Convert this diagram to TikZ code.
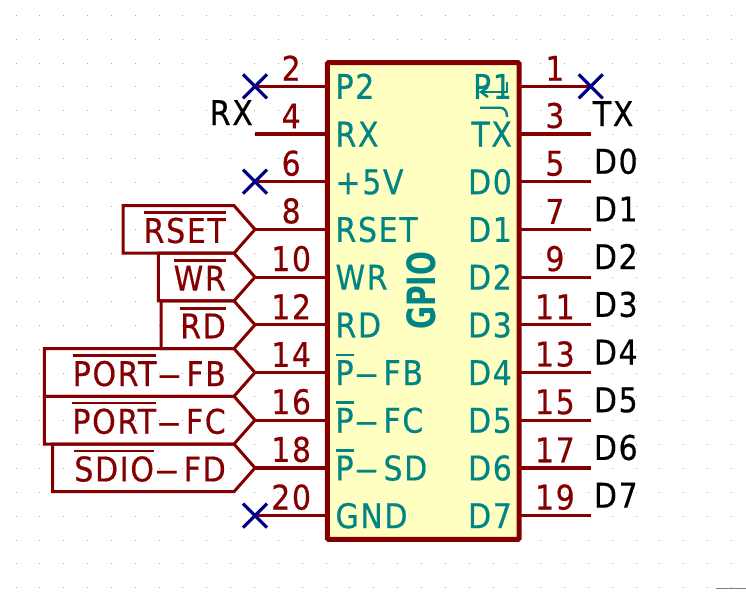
\documentclass[tikz,border=0pt]{standalone}
\usepackage{fontspec}
\setmainfont{DejaVu Sans}[FakeStretch=0.88,LetterSpace=5,FakeBold=0.5]
\newfontfamily\gpiofont[FakeStretch=0.72]{DejaVu Sans Bold}
\usepackage{tikz}
\definecolor{pinRed}{HTML}{840000}
\definecolor{nameTeal}{HTML}{008484}
\definecolor{markBlue}{HTML}{000084}
\definecolor{chipBody}{HTML}{FFFFC2}
\tikzstyle{griddot} = [fill=black!35]
\tikzstyle{chipbox} = [draw=pinRed, fill=chipBody, line width=5pt, rounded corners=1pt, outer sep=0pt]
\tikzstyle{pinwire} = [draw=pinRed, line width=3.2pt]
\tikzstyle{pinnum} = [text=pinRed, above=4pt]
\tikzstyle{leftname} = [text=nameTeal, anchor=base west, xshift=8pt, yshift=-12.5pt]
\tikzstyle{rightname} = [text=nameTeal, anchor=base east, xshift=-7pt, yshift=-12.5pt]
\tikzstyle{netname} = [text=black, anchor=base west, xshift=3pt, yshift=8pt]
\tikzstyle{ncmark} = [draw=markBlue, line width=3.2pt]
\tikzstyle{labelline} = [draw=pinRed, line width=3pt]
\tikzstyle{labeltext} = [text=pinRed, anchor=base east, xshift=-29pt, yshift=-13.5pt]
\newcommand{\nbar}[1]{\vbox{\hrule height 2.6pt \kern 4pt \hbox{#1}}}
\newcommand{\ldash}{\kern1pt\scalebox{1.6}[1]{–}\kern5pt}

\begin{document}
\begin{tikzpicture}[
            x=1pt, y=-1pt,
            every node/.style={inner sep=0pt, font=\fontsize{34pt}{36pt}\selectfont},
            node distance=47.7pt
        ]
            \useasboundingbox (0,0) rectangle (746,600);
            \foreach \i in {0,...,30}
                \foreach \j in {0,...,24}
                    \fill [griddot] (15.5+23.85*\i,14.8+23.85*\j) rectangle ++(1,1);
            \draw [black!50, line width=1pt] (716,588) -- (746,588);

            \node [chipbox, minimum width=191.7pt, minimum height=476.6pt] (chip) at (423.2,301) {};
            \node [text=nameTeal, rotate=90, font=\fontsize{39pt}{42pt}\gpiofont] (title) at (421.7,291) {GPIO};

            % left pin ends
            \coordinate (end2) at (255,86.3);
            \coordinate [below of=end2] (end4);
            \coordinate [below of=end4] (end6);
            \coordinate [below of=end6] (end8);
            \coordinate [below of=end8] (end10);
            \coordinate [below of=end10] (end12);
            \coordinate [below of=end12] (end14);
            \coordinate [below of=end14] (end16);
            \coordinate [below of=end16] (end18);
            \coordinate [below of=end18] (end20);
            % right pin ends
            \coordinate (end1) at (590.7,86.3);
            \coordinate [below of=end1] (end3);
            \coordinate [below of=end3] (end5);
            \coordinate [below of=end5] (end7);
            \coordinate [below of=end7] (end9);
            \coordinate [below of=end9] (end11);
            \coordinate [below of=end11] (end13);
            \coordinate [below of=end13] (end15);
            \coordinate [below of=end15] (end17);
            \coordinate [below of=end17] (end19);

            % left pins
            \draw [pinwire] (end2) -- (end2 -| chip.west) node [pinnum, midway] (num2) {2};
            \draw [pinwire] (end4) -- (end4 -| chip.west) node [pinnum, midway] (num4) {4};
            \draw [pinwire] (end6) -- (end6 -| chip.west) node [pinnum, midway] (num6) {6};
            \draw [pinwire] (end8) -- (end8 -| chip.west) node [pinnum, midway] (num8) {8};
            \draw [pinwire] (end10) -- (end10 -| chip.west) node [pinnum, midway] (num10) {10};
            \draw [pinwire] (end12) -- (end12 -| chip.west) node [pinnum, midway] (num12) {12};
            \draw [pinwire] (end14) -- (end14 -| chip.west) node [pinnum, midway] (num14) {14};
            \draw [pinwire] (end16) -- (end16 -| chip.west) node [pinnum, midway] (num16) {16};
            \draw [pinwire] (end18) -- (end18 -| chip.west) node [pinnum, midway] (num18) {18};
            \draw [pinwire] (end20) -- (end20 -| chip.west) node [pinnum, midway] (num20) {20};
            % right pins
            \draw [pinwire] (end1 -| chip.east) -- (end1) node [pinnum, midway] (num1) {1};
            \draw [pinwire] (end3 -| chip.east) -- (end3) node [pinnum, midway] (num3) {3};
            \draw [pinwire] (end5 -| chip.east) -- (end5) node [pinnum, midway] (num5) {5};
            \draw [pinwire] (end7 -| chip.east) -- (end7) node [pinnum, midway] (num7) {7};
            \draw [pinwire] (end9 -| chip.east) -- (end9) node [pinnum, midway] (num9) {9};
            \draw [pinwire] (end11 -| chip.east) -- (end11) node [pinnum, midway] (num11) {11};
            \draw [pinwire] (end13 -| chip.east) -- (end13) node [pinnum, midway] (num13) {13};
            \draw [pinwire] (end15 -| chip.east) -- (end15) node [pinnum, midway] (num15) {15};
            \draw [pinwire] (end17 -| chip.east) -- (end17) node [pinnum, midway] (num17) {17};
            \draw [pinwire] (end19 -| chip.east) -- (end19) node [pinnum, midway] (num19) {19};

            % names inside the chip
            \node [leftname] (nameP2) at (end2 -| chip.west) {P2};
            \node [leftname] (nameRX) at (end4 -| chip.west) {RX};
            \node [leftname] (name5V) at (end6 -| chip.west) {+5V};
            \node [leftname] (nameRSET) at (end8 -| chip.west) {RSET};
            \node [leftname] (nameWR) at (end10 -| chip.west) {WR};
            \node [leftname] (nameRD) at (end12 -| chip.west) {RD};
            \node [leftname] (nameFB) at (end14 -| chip.west) {\nbar{P}\ldash FB};
            \node [leftname] (nameFC) at (end16 -| chip.west) {\nbar{P}\ldash FC};
            \node [leftname] (nameSD) at (end18 -| chip.west) {\nbar{P}\ldash SD};
            \node [leftname] (nameGND) at (end20 -| chip.west) {GND};
            \node [rightname] (nameP1) at (end1 -| chip.east) {P1};
            \node [rightname] (nameTX) at (end3 -| chip.east) {TX};
            \node [rightname] (nameD0) at (end5 -| chip.east) {D0};
            \node [rightname] (nameD1) at (end7 -| chip.east) {D1};
            \node [rightname] (nameD2) at (end9 -| chip.east) {D2};
            \node [rightname] (nameD3) at (end11 -| chip.east) {D3};
            \node [rightname] (nameD4) at (end13 -| chip.east) {D4};
            \node [rightname] (nameD5) at (end15 -| chip.east) {D5};
            \node [rightname] (nameD6) at (end17 -| chip.east) {D6};
            \node [rightname] (nameD7) at (end19 -| chip.east) {D7};
            \draw [nameTeal, line width=2.6pt] (481,92) -- (507,92) -- (507,82);
            \draw [nameTeal, line width=2.4pt] (488,87) -- (481,92) -- (488,97);
            \draw [nameTeal, line width=2.4pt] (480,107.7) -- (500,107.7) .. controls (505,107.7) and (507,112) .. (507,117);

            % nets
            \node [text=black, anchor=base east, xshift=-2pt, yshift=9pt] (netRX) at (end4) {RX};
            \node [netname, xshift=-1pt] (netTX) at (end3) {TX};
            \node [netname] (netD0) at (end5) {D0};
            \node [netname] (netD1) at (end7) {D1};
            \node [netname] (netD2) at (end9) {D2};
            \node [netname] (netD3) at (end11) {D3};
            \node [netname] (netD4) at (end13) {D4};
            \node [netname] (netD5) at (end15) {D5};
            \node [netname] (netD6) at (end17) {D6};
            \node [netname] (netD7) at (end19) {D7};

            % no connection marks
            \draw [ncmark] (end2) +(-12,-12) -- +(12,12) (end2) +(-12,12) -- +(12,-12);
            \draw [ncmark] (end6) +(-12,-12) -- +(12,12) (end6) +(-12,12) -- +(12,-12);
            \draw [ncmark] (end20) +(-12,-12) -- +(12,12) (end20) +(-12,12) -- +(12,-12);
            \draw [ncmark] (end1) +(-12,-12) -- +(12,12) (end1) +(-12,12) -- +(12,-12);

            % signal labels
            \draw [labelline] (end8) -- (234,205.6) -- (123,205.6) -- (123,253.2) -- (234,253.2) -- cycle;
            \draw [labelline] (end10) -- (234,253.2) -- (158.3,253.2) -- (158.3,300.9) -- (234,300.9) -- cycle;
            \draw [labelline] (end12) -- (234,300.9) -- (161,300.9) -- (161,348.6) -- (234,348.6) -- cycle;
            \draw [labelline] (end14) -- (234,348.6) -- (44.3,348.6) -- (44.3,396.3) -- (234,396.3) -- cycle;
            \draw [labelline] (end16) -- (234,396.3) -- (44.3,396.3) -- (44.3,444) -- (234,444) -- cycle;
            \draw [labelline] (end18) -- (234,444) -- (52.7,444) -- (52.7,491.7) -- (234,491.7) -- cycle;
            \node [labeltext] (labelRSET) at (end8) {\nbar{RSET}};
            \node [labeltext] (labelWR) at (end10) {\nbar{WR}};
            \node [labeltext] (labelRD) at (end12) {\nbar{RD}};
            \node [labeltext] (labelFB) at (end14) {\nbar{PORT}\ldash FB};
            \node [labeltext] (labelFC) at (end16) {\nbar{PORT}\ldash FC};
            \node [labeltext] (labelFD) at (end18) {\nbar{SDIO}\ldash FD};
        \end{tikzpicture}
\end{document}
